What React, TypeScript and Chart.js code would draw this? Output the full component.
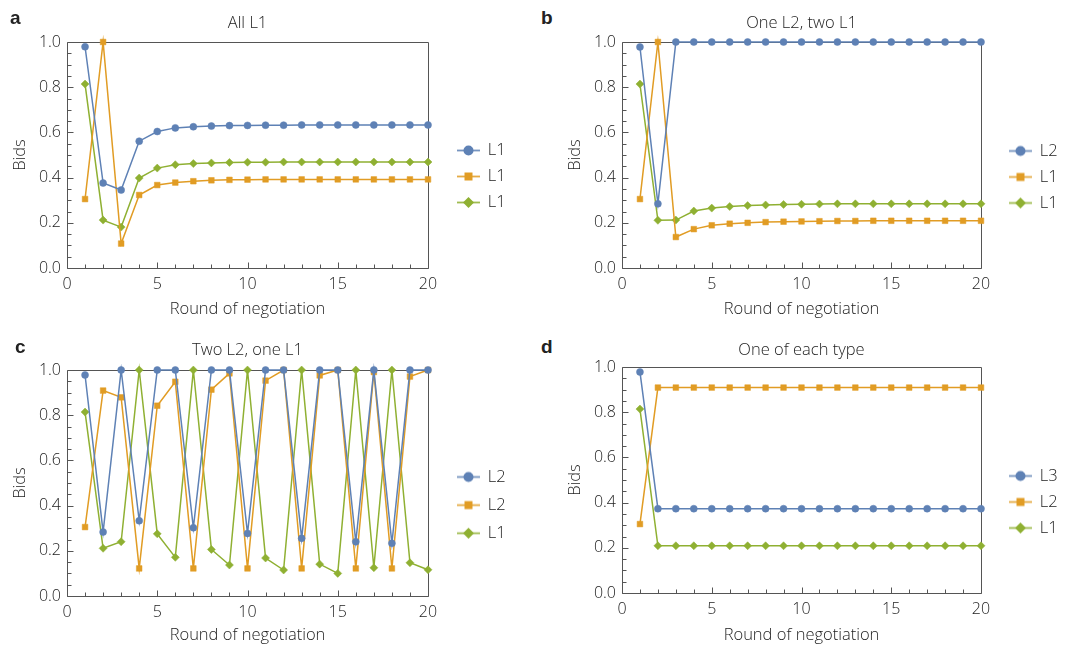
import React, { useEffect, useRef } from 'react';
import { Chart, registerables } from 'chart.js';

Chart.register(...registerables);

// ---------- data ----------
const ROUNDS = [1, 2, 3, 4, 5, 6, 7, 8, 9, 10, 11, 12, 13, 14, 15, 16, 17, 18, 19, 20];
const X_TICKS = [0, 5, 10, 15, 20];
const Y_TICKS = [0, 0.2, 0.4, 0.6, 0.8, 1.0];
const X_TITLE = 'Round of negotiation';
const Y_TITLE = 'Bids';

const A_TITLE = 'All L1';
const A_LABELS = ['L1', 'L1', 'L1'];
const A_BLUE = [0.979, 0.376, 0.345, 0.561, 0.604, 0.62, 0.625, 0.628, 0.63, 0.631, 0.632, 0.632, 0.633, 0.633, 0.633, 0.633, 0.633, 0.633, 0.633, 0.633];
const A_ORANGE = [0.305, 1.0, 0.108, 0.323, 0.367, 0.378, 0.384, 0.388, 0.39, 0.391, 0.392, 0.392, 0.392, 0.392, 0.392, 0.392, 0.392, 0.392, 0.392, 0.392];
const A_GREEN = [0.814, 0.212, 0.181, 0.398, 0.442, 0.457, 0.462, 0.465, 0.467, 0.468, 0.468, 0.469, 0.469, 0.469, 0.469, 0.469, 0.469, 0.469, 0.469, 0.469];

const B_TITLE = 'One L2, two L1';
const B_LABELS = ['L2', 'L1', 'L1'];
const B_BLUE = [0.978, 0.284, 1, 1, 1, 1, 1, 1, 1, 1, 1, 1, 1, 1, 1, 1, 1, 1, 1, 1];
const B_ORANGE = [0.305, 1.0, 0.137, 0.172, 0.189, 0.196, 0.2, 0.203, 0.205, 0.206, 0.207, 0.208, 0.208, 0.209, 0.209, 0.209, 0.209, 0.209, 0.209, 0.209];
const B_GREEN = [0.814, 0.211, 0.212, 0.252, 0.265, 0.272, 0.276, 0.279, 0.281, 0.282, 0.283, 0.284, 0.284, 0.284, 0.284, 0.284, 0.284, 0.284, 0.284, 0.284];

const C_TITLE = 'Two L2, one L1';
const C_LABELS = ['L2', 'L2', 'L1'];
const C_BLUE = [0.978, 0.283, 1, 0.333, 1, 1, 0.302, 1, 1, 0.277, 1, 1, 0.255, 1, 1, 0.24, 1, 0.233, 1, 1];
const C_ORANGE = [0.305, 0.909, 0.879, 0.122, 0.842, 0.948, 0.122, 0.913, 0.985, 0.122, 0.953, 1.0, 0.122, 0.976, 1.0, 0.122, 0.991, 0.122, 0.971, 1.0];
const C_GREEN = [0.814, 0.211, 0.24, 1.0, 0.275, 0.171, 1.0, 0.206, 0.137, 1.0, 0.168, 0.115, 1.0, 0.141, 0.1, 1.0, 0.125, 1.0, 0.147, 0.116];

const D_TITLE = 'One of each type';
const D_LABELS = ['L3', 'L2', 'L1'];
const D_BLUE = [0.978, 0.373, 0.373, 0.373, 0.373, 0.373, 0.373, 0.373, 0.373, 0.373, 0.373, 0.373, 0.373, 0.373, 0.373, 0.373, 0.373, 0.373, 0.373, 0.373];
const D_ORANGE = [0.305, 0.909, 0.909, 0.909, 0.909, 0.909, 0.909, 0.909, 0.909, 0.909, 0.909, 0.909, 0.909, 0.909, 0.909, 0.909, 0.909, 0.909, 0.909, 0.909];
const D_GREEN = [0.814, 0.209, 0.209, 0.209, 0.209, 0.209, 0.209, 0.209, 0.209, 0.209, 0.209, 0.209, 0.209, 0.209, 0.209, 0.209, 0.209, 0.209, 0.209, 0.209];

// ---------- styles ----------
const BLUE = '#5E81B5';
const ORANGE = '#E19C24';
const GREEN = '#8FB032';
const TEXT = '#222222';
const FRAME = '#555555';
const FONT = "'Open Sans', 'Noto Sans', sans-serif";
const WEIGHT = 300;

const STYLES = [
  { color: BLUE, pointStyle: 'circle', radius: 3.5 },
  { color: ORANGE, pointStyle: 'rect', radius: 4 },
  { color: GREEN, pointStyle: 'rectRot', radius: 4 },
];

type Geo = {
  letter: string;
  letterX: number;
  letterY: number;
  canvas: { left: number; top: number; width: number; height: number };
  area: { left: number; top: number; right: number; bottom: number };
  titleY: number;
  xTitleY: number;
  legendX: number;
  legendFirstY: number;
  legendPad: number;
};

const GEO: Geo[] = [
  { letter: 'a', letterX: 10, letterY: 8, canvas: { left: 0, top: 0, width: 530, height: 323 }, area: { left: 67, top: 42, right: 428, bottom: 268 }, titleY: 23, xTitleY: 309, legendX: 29, legendFirstY: 150.5, legendPad: 9.5 },
  { letter: 'b', letterX: 541, letterY: 8, canvas: { left: 555, top: 0, width: 510, height: 323 }, area: { left: 622, top: 42, right: 981, bottom: 268 }, titleY: 23, xTitleY: 309, legendX: 28, legendFirstY: 151, legendPad: 9.5 },
  { letter: 'c', letterX: 15, letterY: 337, canvas: { left: 0, top: 328, width: 530, height: 318 }, area: { left: 67, top: 370, right: 428, bottom: 596 }, titleY: 350.5, xTitleY: 635, legendX: 29, legendFirstY: 477, legendPad: 11.6 },
  { letter: 'd', letterX: 541, letterY: 337, canvas: { left: 555, top: 325, width: 510, height: 321 }, area: { left: 622, top: 367, right: 981, bottom: 593 }, titleY: 350.5, xTitleY: 635, legendX: 28, legendFirstY: 476, legendPad: 9.5 },
];

const TICK_SIZE = 16;
const LABEL_SIZE = 16.5;
const LEGEND_BOX_W = 22;

function makeIcon(style: { color: string; pointStyle: string }): HTMLCanvasElement {
  const w = 23, h = 13;
  const c = document.createElement('canvas');
  c.width = w;
  c.height = h;
  const ctx = c.getContext('2d')!;
  const cy = h / 2, cx = w / 2;
  ctx.strokeStyle = style.color;
  ctx.globalAlpha = 0.85;
  ctx.lineWidth = 1.8;
  ctx.beginPath();
  ctx.moveTo(0, cy);
  ctx.lineTo(w, cy);
  ctx.stroke();
  ctx.globalAlpha = 1;
  ctx.fillStyle = style.color;
  ctx.beginPath();
  if (style.pointStyle === 'circle') {
    ctx.arc(cx, cy, 5, 0, Math.PI * 2);
  } else if (style.pointStyle === 'rect') {
    ctx.rect(cx - 4, cy - 4, 8, 8);
  } else {
    ctx.moveTo(cx - 5.5, cy);
    ctx.lineTo(cx, cy - 5.5);
    ctx.lineTo(cx + 5.5, cy);
    ctx.lineTo(cx, cy + 5.5);
    ctx.closePath();
  }
  ctx.fill();
  return c;
}

const frameTicks = {
  id: 'frameTicks',
  beforeDatasetsDraw(chart: any) {
    const { ctx, chartArea: a } = chart;
    const xs = chart.scales.x;
    const ys = chart.scales.y;
    const L = Math.round(a.left) + 0.5;
    const R = Math.round(a.right) + 0.5;
    const T = Math.round(a.top) + 0.5;
    const B = Math.round(a.bottom) + 0.5;
    ctx.save();
    ctx.strokeStyle = FRAME;
    ctx.lineWidth = 1;
    ctx.beginPath();
    ctx.moveTo(L, T);
    ctx.lineTo(R, T);
    ctx.lineTo(R, B);
    ctx.lineTo(L, B);
    ctx.closePath();
    for (let i = 0; i <= 20; i++) {
      const py = Math.round(ys.getPixelForValue(i * 0.05)) + 0.5;
      const len = i % 4 === 0 ? 6 : 4;
      ctx.moveTo(L, py);
      ctx.lineTo(L + len, py);
    }
    for (let i = 0; i <= 20; i++) {
      const px = Math.round(xs.getPixelForValue(i)) + 0.5;
      const len = i % 5 === 0 ? 6 : 4;
      ctx.moveTo(px, B);
      ctx.lineTo(px, B - len);
    }
    ctx.stroke();
    ctx.restore();
  },
};

const legendPlace = {
  id: 'legendPlace',
  afterLayout(chart: any, _args: any, opts: any) {
    const lg = chart.legend;
    if (!lg) return;
    const a = chart.chartArea;
    const pad = opts.pad;
    const newLeft = a.right + opts.dx + 0.5 - pad;
    const newTop = opts.firstY - LABEL_SIZE / 2 - pad;
    const h = lg.bottom - lg.top;
    const w = lg.right - lg.left;
    lg.left = newLeft;
    lg.right = newLeft + w;
    lg.top = newTop;
    lg.bottom = newTop + h;
  },
};

function Panel({ geo, title, labels, series }: { geo: Geo; title: string; labels: string[]; series: number[][] }) {
  const ref = useRef<HTMLCanvasElement>(null);
  useEffect(() => {
    const canvas = ref.current!;
    const icons = STYLES.map((s) => makeIcon(s));
    const c = geo.canvas;
    const a = geo.area;
    const lh = LABEL_SIZE * 1.2;
    const titlePadTop = geo.titleY - c.top - lh / 2;
    const titlePadBottom = a.top - c.top - titlePadTop - lh;
    const xAxisH = c.top + c.height - a.bottom;
    const xTitlePadBottom = c.top + c.height - geo.xTitleY - lh / 2;
    const yAxisW = a.left - c.left;

    const mctx = canvas.getContext('2d')!;
    mctx.font = `${WEIGHT} ${LABEL_SIZE}px ${FONT}`;
    const textW = Math.max(...labels.map((t) => mctx.measureText(t).width));
    const legendW = geo.legendPad + LEGEND_BOX_W + LABEL_SIZE / 2 + textW + 10;
    const padRight = Math.max(0, c.left + c.width - a.right - legendW);

    const font = (size: number) => ({ family: FONT, size, weight: WEIGHT as any });

    const chart = new Chart(canvas, {
      type: 'line',
      data: {
        datasets: series.map((vals, i) => ({
          label: labels[i],
          data: ROUNDS.map((r, j) => ({ x: r, y: vals[j] })),
          borderColor: STYLES[i].color,
          backgroundColor: STYLES[i].color,
          pointBackgroundColor: STYLES[i].color,
          pointBorderColor: STYLES[i].color,
          pointBorderWidth: 0.5,
          borderWidth: 1.5,
          pointStyle: STYLES[i].pointStyle as any,
          pointRadius: STYLES[i].radius,
          tension: 0,
          clip: false as any,
        })),
      },
      options: {
        animation: false,
        responsive: false,
        events: [],
        layout: { padding: { left: 0, top: 0, bottom: 0, right: padRight }, autoPadding: false },
        scales: {
          x: {
            type: 'linear',
            min: 0,
            max: 20,
            afterBuildTicks: (s: any) => {
              s.ticks = X_TICKS.map((v) => ({ value: v }));
            },
            afterFit: (s: any) => {
              s.height = xAxisH;
            },
            ticks: { autoSkip: false, maxRotation: 0, padding: 7, color: TEXT, font: font(TICK_SIZE) },
            grid: { display: false, drawTicks: false },
            border: { display: false },
            title: { display: true, text: X_TITLE, color: TEXT, font: font(LABEL_SIZE), padding: { top: 0, bottom: xTitlePadBottom } },
          },
          y: {
            type: 'linear',
            min: 0,
            max: 1,
            afterBuildTicks: (s: any) => {
              s.ticks = Y_TICKS.map((v) => ({ value: v }));
            },
            afterFit: (s: any) => {
              s.width = yAxisW;
            },
            ticks: {
              autoSkip: false,
              padding: 6,
              color: TEXT,
              font: font(TICK_SIZE),
              callback: (v: any) => Number(v).toFixed(1),
            },
            grid: { display: false, drawTicks: false },
            border: { display: false },
            title: { display: true, text: Y_TITLE, color: TEXT, font: font(LABEL_SIZE), padding: { top: 20 - lh / 2, bottom: 0 } },
          },
        },
        plugins: {
          title: {
            display: true,
            text: title,
            fullSize: false,
            color: TEXT,
            font: font(LABEL_SIZE),
            padding: { top: titlePadTop, bottom: titlePadBottom },
          },
          legend: {
            position: 'right',
            align: 'start',
            fullSize: false,
            labels: {
              usePointStyle: true,
              pointStyleWidth: LEGEND_BOX_W,
              padding: geo.legendPad,
              color: TEXT,
              font: font(LABEL_SIZE),
              generateLabels: (ch: any) => {
                const items = (Chart.defaults.plugins.legend.labels as any).generateLabels(ch);
                return items.map((it: any, i: number) => ({ ...it, pointStyle: icons[i], fontColor: TEXT }));
              },
            },
          },
          tooltip: { enabled: false },
          legendPlace: { dx: geo.legendX, firstY: geo.legendFirstY - c.top, pad: geo.legendPad },
        } as any,
      },
      plugins: [frameTicks, legendPlace],
    } as any);
    return () => chart.destroy();
  }, [geo, title, labels, series]);

  return (
    <>
      <canvas
        ref={ref}
        width={geo.canvas.width}
        height={geo.canvas.height}
        style={{ position: 'absolute', left: geo.canvas.left, top: geo.canvas.top, width: geo.canvas.width, height: geo.canvas.height }}
      />
      <div
        style={{
          position: 'absolute',
          left: geo.letterX,
          top: geo.letterY,
          fontFamily: "'Liberation Sans', Arial, sans-serif",
          fontWeight: 'bold',
          fontSize: 19,
          lineHeight: '19px',
          color: '#222',
        }}
      >
        {geo.letter}
      </div>
    </>
  );
}

export default function App() {
  return (
    <div style={{ position: 'absolute', left: 0, top: 0, width: 1065, height: 646, background: '#fff', overflow: 'hidden' }}>
      <Panel geo={GEO[0]} title={A_TITLE} labels={A_LABELS} series={[A_BLUE, A_ORANGE, A_GREEN]} />
      <Panel geo={GEO[1]} title={B_TITLE} labels={B_LABELS} series={[B_BLUE, B_ORANGE, B_GREEN]} />
      <Panel geo={GEO[2]} title={C_TITLE} labels={C_LABELS} series={[C_BLUE, C_ORANGE, C_GREEN]} />
      <Panel geo={GEO[3]} title={D_TITLE} labels={D_LABELS} series={[D_BLUE, D_ORANGE, D_GREEN]} />
    </div>
  );
}
